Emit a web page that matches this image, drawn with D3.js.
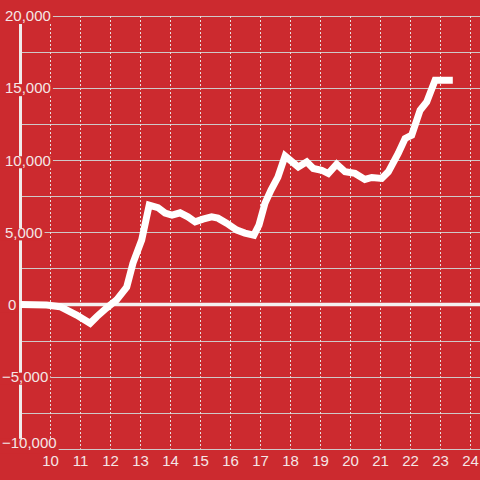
<!DOCTYPE html>
<html>
<head>
<meta charset="utf-8">
<script src="https://cdn.jsdelivr.net/npm/d3@7"></script>
<style>
  body { margin: 0; background: #cc2a2f; }
  svg { display: block; }
  text { font-family: "Liberation Sans", Arial, sans-serif; font-size: 15px; fill: #f4e6e6; }
</style>
</head>
<body>
<div id="chart"></div>
<script>
// hour of day
const hours = [9.0, 9.87, 10.32, 10.87, 11.32, 11.54, 11.87, 12.2, 12.54, 12.75,
  13.04, 13.29, 13.58, 13.82, 14.05, 14.32, 14.58, 14.82, 15.08, 15.37,
  15.58, 15.87, 16.21, 16.48, 16.78, 16.95, 17.15, 17.35, 17.58, 17.82,
  18.26, 18.54, 18.76, 19.04, 19.26, 19.54, 19.82, 20.15, 20.48, 20.71,
  21.04, 21.26, 21.59, 21.82, 22.04, 22.32, 22.54, 22.82, 23.41];
const values = [0, -30, -150, -730, -1300, -845, -240, 310, 1210, 2870,
  4470, 6890, 6720, 6340, 6200, 6360, 6080, 5730, 5920, 6080,
  5990, 5640, 5160, 4950, 4810, 5510, 7030, 7930, 8830, 10300,
  9540, 9890, 9430, 9310, 9080, 9730, 9200, 9090, 8670, 8810,
  8740, 9200, 10470, 11510, 11740, 13470, 14040, 15550, 15550];

const xTickValues = [10, 11, 12, 13, 14, 15, 16, 17, 18, 19, 20, 21, 22, 23, 24];
const yTickValues = [20000, 15000, 10000, 5000, 0, -5000, -10000];
const yGridValues = [20000, 17500, 15000, 12500, 10000, 7500, 5000, 2500, 0,
  -2500, -5000, -7500, -10000];

const W = 480, H = 480;
const svg = d3.select('#chart').append('svg')
    .attr('width', W)
    .attr('height', H);

svg.append('rect')
    .attr('width', W).attr('height', H)
    .attr('fill', '#cc2a2f');

let x = d3.scaleLinear().domain([9, 24]).range([20.5, 470.5]),
    y = d3.scaleLinear().domain([-10000, 20000]).range([448.8, 16]);

// horizontal grid
svg.append('g')
    .selectAll('line')
    .data(yGridValues)
    .join('line')
    .attr('x1', x(9)).attr('x2', W)
    .attr('y1', d => Math.round(y(d)) + 0.5)
    .attr('y2', d => Math.round(y(d)) + 0.5)
    .attr('stroke', '#cfc8c8')
    .attr('stroke-width', 1);

// vertical dotted grid
svg.append('g')
    .selectAll('line')
    .data(xTickValues)
    .join('line')
    .attr('x1', d => x(d)).attr('x2', d => x(d))
    .attr('y1', y(20000)).attr('y2', y(-10000))
    .attr('stroke', '#e8dede')
    .attr('stroke-width', 1)
    .attr('stroke-dasharray', '2,2');

// zero line
svg.append('line')
    .attr('x1', x(9)).attr('x2', W)
    .attr('y1', y(0)).attr('y2', y(0))
    .attr('stroke', '#f4f0f0')
    .attr('stroke-width', 3.5);

// left axis line
svg.append('line')
    .attr('x1', x(9)).attr('x2', x(9))
    .attr('y1', y(20000)).attr('y2', y(-10000))
    .attr('stroke', '#f0ecec')
    .attr('stroke-width', 3);

// data line
let line = d3.line()
    .x((d, i) => x(hours[i]))
    .y(d => y(d));

svg.append('path')
    .datum(values)
    .attr('d', line)
    .attr('fill', 'none')
    .attr('stroke', '#ffffff')
    .attr('stroke-width', 7)
    .attr('stroke-linejoin', 'miter')
    .attr('stroke-linecap', 'butt');

// y labels with background boxes (bottom one nudged up, clear of the x labels)
let fmt = d3.format(',');
let ylab = svg.append('g')
    .selectAll('g')
    .data(yTickValues)
    .join('g');

ylab.append('text')
    .attr('x', d => d === 0 ? 8 : (d < 0 ? 2 : 5))
    .attr('y', d => y(d) - (d === -10000 ? 6 : 0))
    .attr('dy', '0.35em')
    .text(d => fmt(d));

ylab.each(function(d) {
    let g = d3.select(this),
        bb = g.select('text').node().getBBox(),
        yy = +g.select('text').attr('y');
    g.insert('rect', 'text')
        .attr('x', 0)
        .attr('y', yy - 4)
        .attr('width', bb.x + bb.width + 2)
        .attr('height', d === -10000 ? 15 : 12)
        .attr('fill', '#cc2a2f');
});

// x labels
svg.append('g')
    .selectAll('text')
    .data(xTickValues)
    .join('text')
    .attr('x', d => x(d))
    .attr('y', 461)
    .attr('dy', '0.35em')
    .attr('text-anchor', 'middle')
    .text(d => d);
</script>
</body>
</html>
